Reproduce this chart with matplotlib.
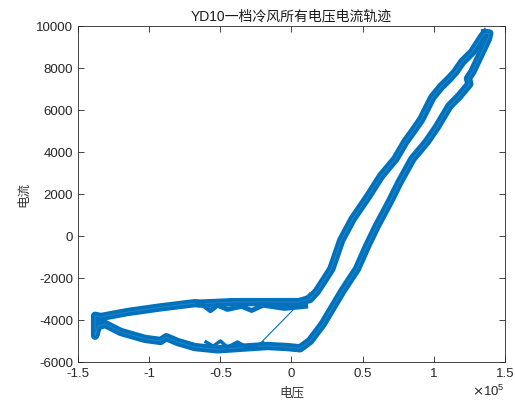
import matplotlib
matplotlib.use("Agg")
import matplotlib.pyplot as plt
from matplotlib.ticker import FuncFormatter

plt.rcParams['font.family'] = ['Liberation Sans', 'Noto Sans CJK SC']
plt.rcParams['axes.unicode_minus'] = False

# one averaged voltage/current loop (V, A)
voltage = [136000, 134000, 127000, 120000, 115000, 111000, 105000, 99000, 91000,
           85000, 80000, 73000, 63000, 54000, 43000, 35000, 28000, 23000, 18000,
           13000, 5000, -17000, -41000, -64000, -68000, -92000, -115000, -134000,
           -138000, -138000, -136000, -131000, -120000, -103000, -92000, -88000,
           -80000, -68000, -52000, -17000, -3000, 6000, 13000, 22000, 27000,
           36000, 46000, 53000, 60000, 69000, 76000, 85000, 95000, 102000,
           111000, 118000, 125000, 124000, 127000, 132000, 138000, 139000, 136000]
current = [9650, 9500, 8760, 8290, 7800, 7500, 7100, 6600, 5530,
           4950, 4480, 3670, 2860, 1900, 810, -200, -1570, -2100, -2620,
           -3000, -3150, -3150, -3150, -3220, -3200, -3400, -3620, -3860,
           -3800, -4750, -4300, -4190, -4570, -4900, -5000, -4820,
           -5050, -5290, -5400, -5240, -5290, -5350, -5000, -4190, -3620,
           -2600, -1570, -500, 480, 1620, 2570, 3670, 4480, 5170,
           6190, 6670, 7240, 7500, 7810, 8520, 9380, 9650, 9650]

# stray cycles in the flat parts
upper_v = [10000, -5000, -20000, -28000, -35000, -45000, -52000, -57000, -62000, -66000]
upper_i = [-3350, -3450, -3300, -3550, -3350, -3500, -3300, -3560, -3300, -3250]
lower_v = [-20000, -30000, -38000, -45000, -50000, -55000, -60000]
lower_i = [-5100, -5350, -5050, -5300, -5000, -5250, -5050]
jump_v = [-21000, 13000]
jump_i = [-5050, -2700]

fig = plt.figure(figsize=(5.15, 4.06), dpi=100)
ax = fig.add_axes([0.1515, 0.106, 0.829, 0.8275])

blue = '#0072BD'
ax.plot(voltage, current, color=blue, lw=6, solid_joinstyle='round')
ax.plot(voltage, current, color='#2a85c8', lw=0.6)
ax.plot(upper_v, upper_i, color=blue, lw=3.5)
ax.plot(lower_v, lower_i, color=blue, lw=2.5)
ax.plot(jump_v, jump_i, color=blue, lw=0.8)

ax.set_xlim(-150000, 150000)
ax.set_ylim(-6000, 10000)
ax.set_xticks([-150000, -100000, -50000, 0, 50000, 100000, 150000])
ax.set_yticks(range(-6000, 10001, 2000))
ax.xaxis.set_major_formatter(FuncFormatter(lambda v, p: '%g' % (v / 1e5)))
ax.yaxis.set_major_formatter(FuncFormatter(lambda v, p: '%g' % v))

ax.tick_params(direction='in', top=True, right=True, length=4, width=0.6,
               labelsize=9.5, colors='#262626')
for s in ax.spines.values():
    s.set_linewidth(0.6)
    s.set_color('#262626')

ax.set_title('YD10一档冷风所有电压电流轨迹', fontsize=10, color='#1a1a1a', pad=5)
ax.set_xlabel('电压', fontsize=9, color='#333333', labelpad=5)
ax.set_ylabel('电流', fontsize=9, color='#333333', labelpad=4)
ax.text(1.0, -0.062, r'$\times\mathregular{10^{5}}$', transform=ax.transAxes, ha='right',
        va='top', fontsize=9.5, color='#262626')

fig.savefig('out.png', dpi=100)
